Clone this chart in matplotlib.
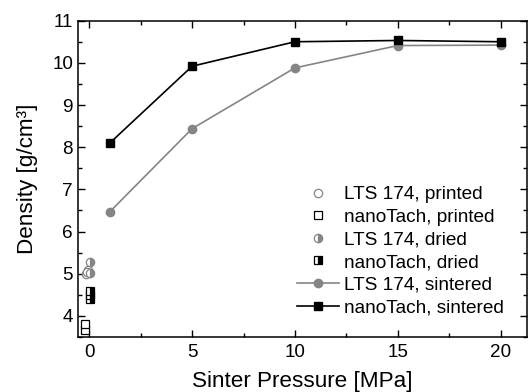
import matplotlib
matplotlib.use("Agg")
import matplotlib.pyplot as plt
from matplotlib.ticker import MultipleLocator

plt.rcParams["font.family"] = ["Liberation Sans", "DejaVu Sans"]

# Sintered samples
pressure = [1, 5, 10, 15, 20]
lts_sintered = [6.47, 8.44, 9.88, 10.41, 10.42]
nano_sintered = [8.10, 9.92, 10.50, 10.53, 10.50]

# Printed and dried samples (no pressure, spread slightly around 0)
lts_printed_x = [-0.15, -0.05, -0.1]
lts_printed = [5.00, 5.10, 5.05]
nano_printed_x = [-0.2, -0.2]
nano_printed = [3.66, 3.80]
lts_dried_x = [0.05, 0.05]
lts_dried = [5.02, 5.28]
nano_dried_x = [0.05, 0.05, 0.05]
nano_dried = [4.40, 4.50, 4.60]

gray = "#858585"
ms = 6

fig = plt.figure(figsize=(5.28, 3.92), dpi=100)
ax = fig.add_axes([0.1477, 0.1403, 0.851, 0.807])

ax.plot(lts_printed_x, lts_printed, "o", ls="none", ms=ms, mfc="white",
        mec=gray, mew=0.9, label="LTS 174, printed")
ax.plot(nano_printed_x, nano_printed, "s", ls="none", ms=ms, mfc="white",
        mec="black", mew=0.9, label="nanoTach, printed")
ax.plot(lts_dried_x, lts_dried, "o", ls="none", ms=ms, fillstyle="right",
        color=gray, mfcalt="white", mec=gray, mew=0.9, label="LTS 174, dried")
ax.plot(nano_dried_x, nano_dried, "s", ls="none", ms=ms, fillstyle="right",
        color="black", mfcalt="white", mec="black", mew=0.9,
        label="nanoTach, dried")
ax.plot(pressure, lts_sintered, "-o", color=gray, lw=1.2, ms=ms,
        label="LTS 174, sintered")
ax.plot(pressure, nano_sintered, "-s", color="black", lw=1.2, ms=ms,
        label="nanoTach, sintered")

ax.set_xlim(-0.55, 21.3)
ax.set_ylim(3.5, 11)
ax.xaxis.set_major_locator(MultipleLocator(5))
ax.xaxis.set_minor_locator(MultipleLocator(2.5))
ax.yaxis.set_major_locator(MultipleLocator(1))
ax.yaxis.set_minor_locator(MultipleLocator(0.5))
ax.tick_params(which="both", direction="in", top=True, right=True,
               labelsize=13.6, width=1)
ax.tick_params(which="major", length=5)
ax.tick_params(which="minor", length=3)
ax.tick_params(axis="x", pad=5)
for s in ax.spines.values():
    s.set_linewidth(1.1)

ax.set_xlabel("Sinter Pressure [MPa]", fontsize=16.2, labelpad=7)
ax.set_ylabel("Density [g/cm³]", fontsize=16.2, labelpad=10)

ax.legend(loc="lower left", bbox_to_anchor=(0.487, 0.065), frameon=False,
          fontsize=13.7, handlelength=2.2, handletextpad=0.3,
          labelspacing=0.28, markerscale=1, borderpad=0, borderaxespad=0)

fig.savefig("out.png", dpi=100)
